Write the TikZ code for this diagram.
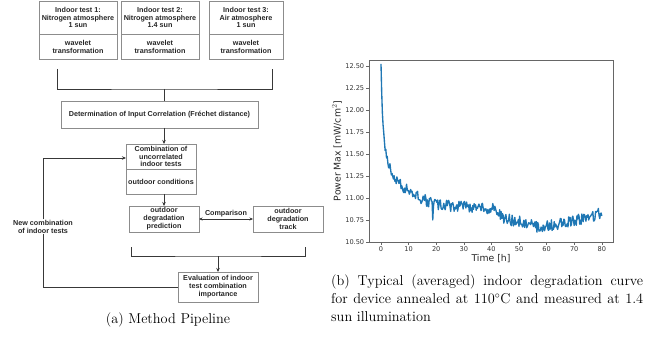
\documentclass[tikz,border=0pt]{standalone}
\usepackage{fontspec}
\newfontfamily\boxfont{Liberation Sans}
\newfontfamily\plotfont{DejaVu Sans}
\usetikzlibrary{arrows.meta, positioning}
\definecolor{boxgray}{gray}{0.55}
\definecolor{linegray}{gray}{0.22}
\definecolor{curveblue}{HTML}{1F77B4}

\begin{document}
\begin{tikzpicture}[x=1pt, y=1pt,
        stage/.style={rectangle, draw=boxgray, line width=0.7pt, align=center, outer sep=0pt, inner sep=0.5pt, font=\boxfont\bfseries\fontsize{7.2}{7.9}\selectfont, text=black!85},
        link/.style={draw=linegray, line width=0.9pt},
        arrow/.style={link, -{Stealth[length=4pt, width=3.5pt]}},
        both/.style={link, {Stealth[length=3.5pt, width=3pt]}-{Stealth[length=3.5pt, width=3pt]}},
        axis/.style={draw=gray!80!black, line width=0.6pt},
        ticklab/.style={font=\plotfont\fontsize{6.6}{7}\selectfont, text=black!80, inner sep=1.5pt},
        curve/.style={draw=curveblue, line width=1.35pt, line join=round},
        caption/.style={font=\fontsize{14.3}{18}\selectfont, inner sep=0pt},
        declare function={pbase(\t)=\t<41 ? 10.88 : (\t<44 ? 10.88-0.04*(\t-41) : (\t<51 ? 10.76-0.0043*(\t-44) : (\t<58 ? 10.73-0.01*(\t-51) : (\t<63 ? 10.66+0.008*(\t-58) : (\t<76 ? 10.70+0.00615*(\t-63) : (\t<79 ? 10.78+0.0167*(\t-76) : 10.83-0.06*(\t-79)))))));}
        ]
        \useasboundingbox (0,0) rectangle (661,-358);

        % Nodes
        \node (test1) [stage, minimum width=78pt, minimum height=33pt] at (78,-17.5) {Indoor test 1:\\Nitrogen atmosphere\\1 sun};
        \node (test1w) [stage, minimum width=78pt, minimum height=25pt, below=0pt of test1] {wavelet\\transformation};
        \node (test2) [stage, minimum width=78pt, minimum height=33pt, right=4pt of test1] {Indoor test 2:\\Nitrogen atmosphere\\1.4 sun};
        \node (test2w) [stage, minimum width=78pt, minimum height=25pt, below=0pt of test2] {wavelet\\transformation};
        \node (test3) [stage, minimum width=74pt, minimum height=33pt, right=10pt of test2] {Indoor test 3:\\Air atmosphere\\1 sun};
        \node (test3w) [stage, minimum width=74pt, minimum height=25pt, below=0pt of test3] {wavelet\\transformation};
        \node (corr) [stage, minimum width=197pt, minimum height=27pt] at (159.5,-114.5) {Determination of Input Correlation (Fréchet distance)};
        \node (comb) [stage, minimum width=70pt, minimum height=25pt] at (161,-156.5) {Combination of\\uncorrelated\\indoor tests};
        \node (combout) [stage, minimum width=70pt, minimum height=25pt, below=0pt of comb] {outdoor conditions};
        \node (pred) [stage, minimum width=70pt, minimum height=26pt] at (164,-219) {outdoor\\degradation\\prediction};
        \node (track) [stage, minimum width=70pt, minimum height=26pt, right=54pt of pred] {outdoor\\degradation\\track};
        \node (eval) [stage, minimum width=80pt, minimum height=30pt] at (218,-287) {Evaluation of indoor\\test combination\\importance};
        \node (newcomb) [stage, draw=none, fill=white] at (43,-226.5) {New combination\\of indoor tests};

        % Bracket corners
        \coordinate (br1a) at (57,-69);
        \coordinate (br1b) at (272,-69);
        \coordinate (br1m) at (164,-89);
        \coordinate (br2a) at (131,-247);
        \coordinate (br2b) at (305,-247);
        \coordinate (br2m) at (218,-256);

        % Arrows
        \draw [link] (br1a) |- (br1m) -| (br1b);
        \draw [link] (br1m) -- (br1m |- corr.north);
        \draw [arrow] (corr.south -| 164,0) -- (164,0 |- comb.north);
        \draw [arrow] (combout.south -| 164,0) -- (164,0 |- pred.north);
        \draw [both] (pred) -- node[midway, above=-1.5pt, font=\boxfont\bfseries\fontsize{7.2}{7.9}\selectfont, text=black!85] {Comparison} (track);
        \draw [link] (br2a) |- (br2m) -| (br2b);
        \draw [arrow] (br2m) -- (eval.north);
        \draw [link] (eval.west) -| (newcomb.south);
        \draw [arrow] (newcomb.north) |- (comb.west |- 0,-158);

        \node (capa) [caption] at (168,-320) {(a) Method Pipeline};

        % Plot
        \pgfmathsetseed{4}
        \begin{scope}[shift={(381,-242)}, x=2.76pt, y=88pt]
            \draw [axis] (-4.35,0) rectangle (84.06,2.068);
            \foreach \t in {0,10,...,80}
                \draw [axis] (\t,0) -- ++(0pt,-3pt) node[below, ticklab] {\t};
            \foreach \v/\lab in {0/10.50, 0.25/10.75, 0.5/11.00, 0.75/11.25, 1/11.50, 1.25/11.75, 1.5/12.00, 1.75/12.25, 2/12.50}
                \draw [axis] (-4.35,\v) -- ++(-3pt,0pt) node[left, ticklab] {\lab};
            \draw [curve] plot[domain=0:80, samples=321] (\x, {pbase(\x)+0.9*exp(-min(\x,12)/0.8)+0.69*exp(-min(\x,60)/8)+0.065*rand-0.22*(abs(\x-18.75)<0.1)-10.5});
        \end{scope}
        \node (ylab) [rotate=90, font=\plotfont\fontsize{9.3}{10}\selectfont, text=black!85] at (337,-151) {Power Max [mW/cm$^2$]};
        \node (xlab) [font=\plotfont\fontsize{9.3}{10}\selectfont, text=black!85] at (491,-259) {Time [h]};

        \node (capb) [caption, anchor=north west, align=left] at (331,-275) {\makebox[312pt][s]{(b) Typical (averaged) indoor degradation curve}\\\makebox[312pt][s]{for device annealed at 110$^\circ$C and measured at 1.4}\\sun illumination};

    \end{tikzpicture}
\end{document}
